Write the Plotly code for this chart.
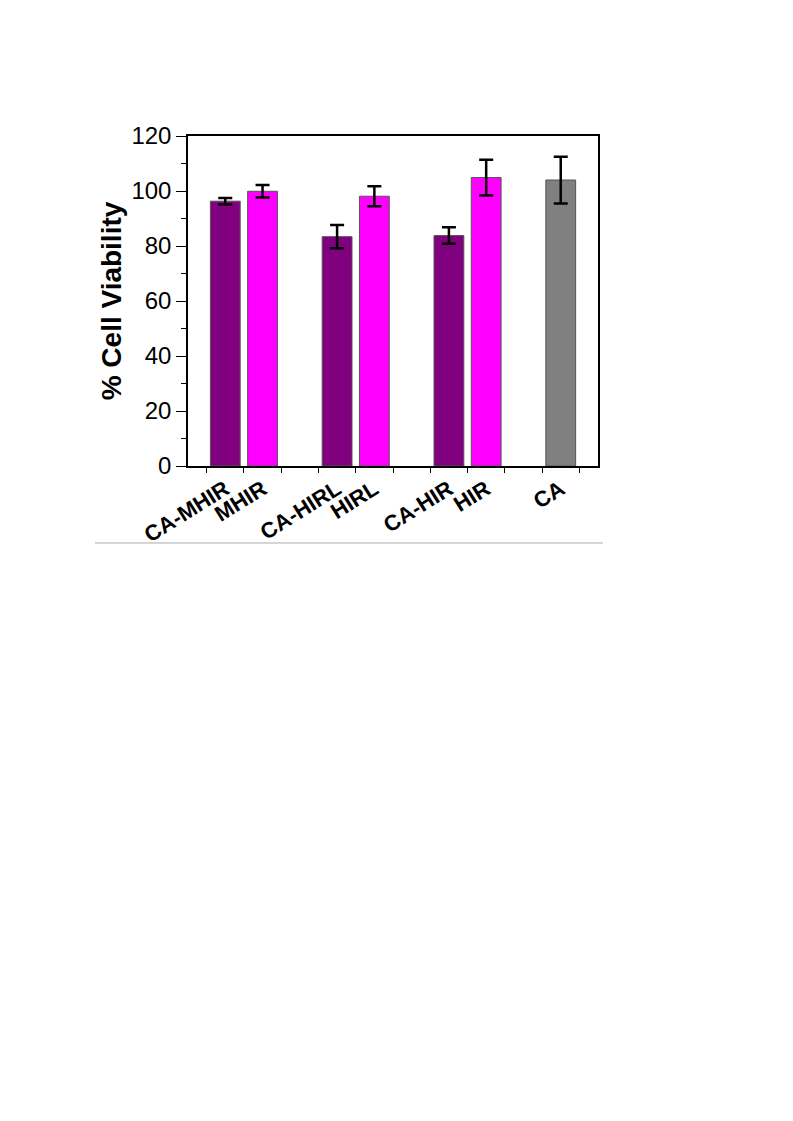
import plotly.graph_objects as go

categories = ["CA-MHIR", "MHIR", "CA-HIRL", "HIRL", "CA-HIR", "HIR", "CA"]
positions = [1, 2, 4, 5, 7, 8, 10]
values = [96.3, 99.9, 83.4, 98.1, 83.8, 104.9, 104.0]
errors = [1.2, 2.3, 4.2, 3.6, 3.0, 6.5, 8.5]
colors = ["#800080", "#FF00FF", "#800080", "#FF00FF", "#800080", "#FF00FF", "#808080"]

fig = go.Figure()
fig.add_trace(go.Bar(
    x=positions, y=values, width=0.8,
    marker=dict(color=colors, line=dict(color="#555555", width=1)),
    error_y=dict(type="data", array=errors, visible=True, color="black",
                 thickness=2.5, width=7),
    showlegend=False,
))

fig.update_layout(
    width=793, height=1121,
    margin=dict(l=180, r=203, t=128, b=663),
    plot_bgcolor="white", paper_bgcolor="white",
    font=dict(family="Liberation Sans, Arial, sans-serif", color="black"),
    xaxis=dict(
        range=[0, 11], tickmode="array", tickvals=positions, ticktext=categories,
        ticks="", tickangle=-32,
        tickfont=dict(size=22, family="Liberation Sans, Arial", weight="bold"),
        showline=True, linecolor="black", linewidth=1.5, mirror=True,
        showgrid=False, zeroline=False,
        minor=dict(tickmode="linear", tick0=0.5, dtick=1, ticks="outside",
                   ticklen=5, tickcolor="black", tickwidth=1.2, showgrid=False),
    ),
    yaxis=dict(
        range=[0, 120], tickmode="linear", tick0=0, dtick=20,
        ticks="outside", ticklen=10, tickwidth=1.2, tickcolor="black",
        tickfont=dict(size=24),
        showline=True, linecolor="black", linewidth=1.5, mirror=True,
        showgrid=False, zeroline=False,
        minor=dict(dtick=10, ticks="outside", ticklen=5, tickcolor="black", tickwidth=1.2),
        title=dict(text="% Cell Viability", standoff=2,
                   font=dict(size=28, family="Liberation Sans, Arial", weight="bold")),
    ),
)

fig.add_shape(type="line", xref="paper", yref="paper",
              x0=-0.2268, x1=1.012, y0=-0.2333, y1=-0.2333,
              line=dict(color="#aaaaaa", width=1))

fig.write_html("out.html")
